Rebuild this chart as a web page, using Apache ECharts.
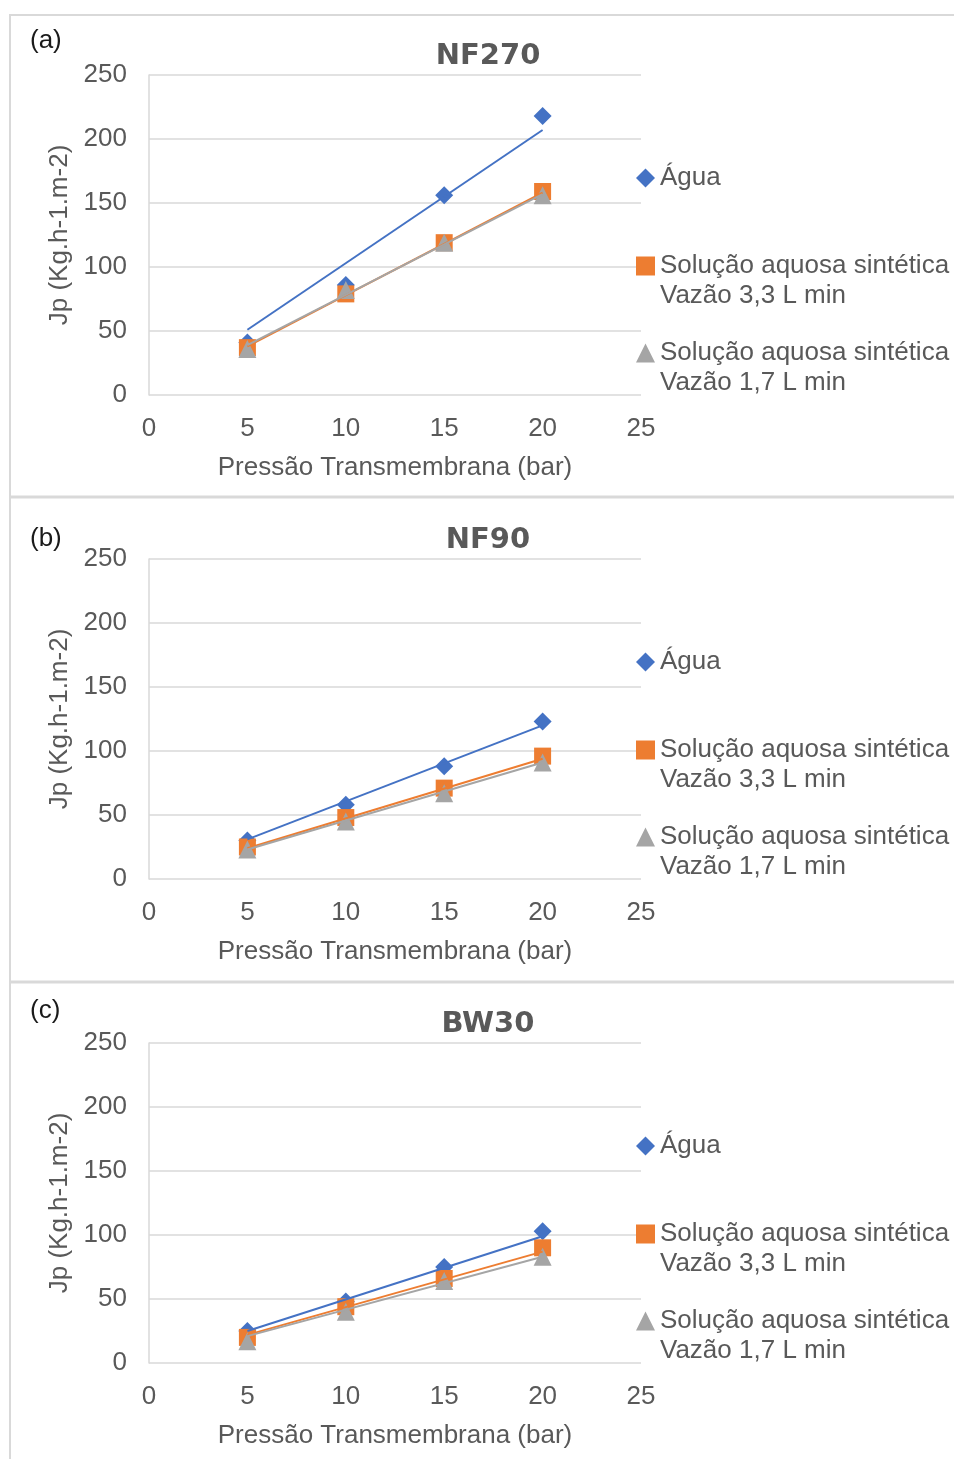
<!DOCTYPE html>
<html>
<head>
<meta charset="utf-8">
<script src="https://cdn.jsdelivr.net/npm/echarts@6/dist/echarts.min.js"></script>
<style>
html,body{margin:0;padding:0;background:#fff;}
#chart{width:954px;height:1459px;}
</style>
</head>
<body>
<div id="chart"></div>
<script>
// ---- data ----
const pressure = [5, 10, 15, 20];
const trendX = [5, 20];
const panelLabels = ['(a)', '(b)', '(c)'];
const titles = ['NF270', 'NF90', 'BW30'];
const seriesNames = ['Água', 'Solução aquosa sintética\nVazão 3,3 L min', 'Solução aquosa sintética\nVazão 1,7 L min'];
const xTicks = [0, 5, 10, 15, 20, 25];
const yTicks = [0, 50, 100, 150, 200, 250];
const xAxisName = 'Pressão Transmembrana (bar)';
const yAxisName = 'Jp (Kg.h-1.m-2)';

// NF270
const aguaA = [41, 86, 156, 218];
const sol33A = [37, 79, 119, 159];
const sol17A = [36, 82, 119, 156];
const aguaTrendA = [51, 207];
const sol33TrendA = [38, 158];
const sol17TrendA = [39, 157];
// NF90
const aguaB = [30, 58, 88, 123];
const sol33B = [25, 48, 71, 96];
const sol17B = [23, 45, 67, 91];
const aguaTrendB = [31, 120];
const sol33TrendB = [24, 94];
const sol17TrendB = [23, 91];
// BW30
const aguaC = [25, 48, 75, 103];
const sol33C = [20, 44, 66, 90];
const sol17C = [17, 40, 64, 83];
const aguaTrendC = [25, 99];
const sol33TrendC = [22, 87];
const sol17TrendC = [21, 83];

const panelPoints = [[aguaA, sol33A, sol17A], [aguaB, sol33B, sol17B], [aguaC, sol33C, sol17C]];
const panelTrends = [[aguaTrendA, sol33TrendA, sol17TrendA], [aguaTrendB, sol33TrendB, sol17TrendB], [aguaTrendC, sol33TrendC, sol17TrendC]];

// ---- styles ----
const colors = ['#4472C4', '#ED7D31', '#A5A5A5'];
const symbols = ['diamond', 'rect', 'triangle'];
const symSizes = [18, 17, 18];
const FONT = 'Liberation Sans, Arial, sans-serif';
const TXT = '#595959';
const FS = 26;
const offsets = [0, 484, 968];
const labelY = [40, 538, 1010];

const zip = (xs, ys) => xs.map((x, i) => [x, ys[i]]);

const option = {
  animation: false,
  backgroundColor: '#fff',
  textStyle: { fontFamily: FONT },
  title: [], grid: [], xAxis: [], yAxis: [], legend: [], series: [],
  graphic: []
};

offsets.forEach((o, p) => {
  option.title.push({
    text: titles[p], left: 488, top: 42 + o, textAlign: 'center', padding: 0,
    textStyle: { fontFamily: 'DejaVu Sans', fontSize: 29, fontWeight: 'bold', color: TXT }
  });
  option.grid.push({ left: 149, top: 75 + o, width: 492, height: 320 });
  option.xAxis.push({
    gridIndex: p, type: 'value', min: xTicks[0], max: xTicks[xTicks.length - 1], interval: 5,
    name: xAxisName, nameLocation: 'middle', nameGap: 60,
    nameTextStyle: { fontFamily: FONT, fontSize: FS, color: TXT },
    axisLine: { show: false }, axisTick: { show: false }, splitLine: { show: false },
    axisLabel: { fontFamily: FONT, fontSize: FS, color: TXT, margin: 21 }
  });
  option.yAxis.push({
    gridIndex: p, type: 'value', min: yTicks[0], max: yTicks[yTicks.length - 1], interval: 50,
    name: yAxisName, nameLocation: 'middle', nameGap: 76,
    nameTextStyle: { fontFamily: FONT, fontSize: FS, color: TXT },
    axisLine: { show: true, lineStyle: { color: '#d9d9d9', width: 1.5 } },
    axisTick: { show: false },
    splitLine: { show: true, lineStyle: { color: '#d9d9d9', width: 1.5 } },
    axisLabel: { fontFamily: FONT, fontSize: FS, color: TXT, margin: 22,
                 verticalAlign: 'middle', padding: [4, 0, 0, 0] }
  });
  const centers = [176, 264, 351];
  seriesNames.forEach((nm, s) => {
    const twoLine = nm.indexOf('\n') >= 0;
    option.legend.push({
      data: [{ name: nm, icon: symbols[s], itemStyle: { color: colors[s] } }],
      formatter: twoLine ? (n => '\u00a0\n' + n) : (n => n),
      left: 636, top: centers[s] + o - (twoLine ? 43 : 13),
      padding: 0, itemWidth: 19, itemHeight: 19, itemGap: 0, selectedMode: false,
      textStyle: { fontFamily: FONT, fontSize: FS, color: TXT, lineHeight: 30 }
    });
  });
  panelPoints[p].forEach((vals, s) => {
    option.series.push({
      name: seriesNames[s], type: 'scatter', xAxisIndex: p, yAxisIndex: p,
      symbol: symbols[s], symbolSize: symSizes[s],
      itemStyle: { color: colors[s], opacity: 1 }, z: 2 + s * 0.1,
      data: zip(pressure, vals)
    });
  });
  panelTrends[p].forEach((vals, s) => {
    option.series.push({
      name: 'trend ' + s, type: 'line', xAxisIndex: p, yAxisIndex: p,
      showSymbol: false, symbol: 'none', z: 3 + s * 0.1,
      lineStyle: { color: colors[s], width: 2 },
      data: zip(trendX, vals)
    });
  });
  option.graphic.push({
    type: 'text', left: 30, top: labelY[p] - 12, z: 10,
    style: { text: panelLabels[p], font: '26px ' + FONT, fill: '#1a1a1a' }
  });
});

// panel frame lines
const frame = [
  { x1: 9, y1: 15, x2: 954, y2: 15 },
  { x1: 10, y1: 15, x2: 10, y2: 1459 },
  { x1: 10, y1: 497, x2: 954, y2: 497 },
  { x1: 10, y1: 982, x2: 954, y2: 982 }
];
frame.forEach((f, i) => {
  option.graphic.push({
    type: 'line', shape: f, z: 0, silent: true,
    style: { stroke: '#d9d9d9', lineWidth: i === 0 || i === 1 ? 2 : 3 }
  });
});

const chart = echarts.init(document.getElementById('chart'), null, { renderer: 'canvas' });
chart.setOption(option);
</script>
</body>
</html>
